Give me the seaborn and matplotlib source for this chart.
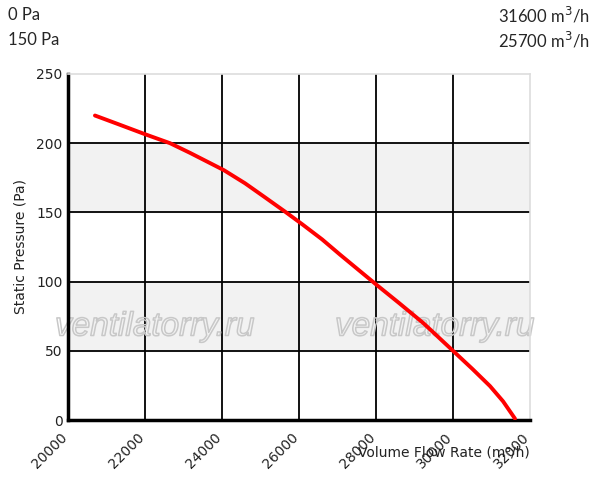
import matplotlib
matplotlib.use("Agg")
import matplotlib.pyplot as plt
import matplotlib.patheffects as pe
import matplotlib.transforms as mtransforms
import pandas as pd
import seaborn as sns

# кривая вентилятора
flow = [20700, 21300, 22000, 22650, 23170, 24050, 24600, 25100, 25640, 26080,
        26600, 27065, 27500, 28000, 28600, 29230, 30000, 30500, 30961, 31300, 31610]
pressure = [220, 213.8, 206.5, 200, 193, 180.5, 171, 161.2, 150.5, 141.5,
            130.5, 119.5, 109.5, 98, 84.5, 70, 50, 37, 24.5, 13.5, 1]

bands = [(50, 100), (150, 200)]
x_ticks = [20000, 22000, 24000, 26000, 28000, 30000, 32000]
y_ticks = [0, 50, 100, 150, 200, 250]

left_notes = ["0 Pa", "150 Pa"]
right_notes = ["31600 m$^3$/h", "25700 m$^3$/h"]

df = pd.DataFrame({"flow": flow, "pressure": pressure})

sns.set_style("white")
plt.rcParams["font.family"] = ["DejaVu Sans"]

fig = plt.figure(figsize=(5.97, 4.92), dpi=100)
ax = fig.add_axes([68 / 597, 1 - 420 / 492, 462 / 597, 346 / 492])

for lo, hi in bands:
    ax.axhspan(lo, hi, color="#f2f2f2", zorder=0)

for x in x_ticks[1:-1]:
    ax.axvline(x, color="black", lw=1.3, zorder=1)
for y in y_ticks[1:-1]:
    ax.axhline(y, color="black", lw=1.3, zorder=1)

# водяные знаки
for cx in [155, 435]:
    ax.text(cx / 597, 1 - 327 / 492, "ventilatorry.ru", ha="center", va="center",
            transform=fig.transFigure, fontsize=24, style="italic",
            family="Liberation Sans", color=(1, 1, 1, 0), clip_on=False,
            path_effects=[pe.withStroke(linewidth=1.1, foreground="#c8c8c8")], zorder=2)

sns.lineplot(data=df, x="flow", y="pressure", color="red", lw=2.8, ax=ax, zorder=3)

ax.set_xlim(20000, 32000)
ax.set_ylim(0, 250)
ax.set_xticks(x_ticks)
ax.set_yticks(y_ticks)
ax.set_xticklabels([str(v) for v in x_ticks], rotation=45, ha="right",
                   rotation_mode="anchor", fontsize=10, color="#222222")
ax.set_yticklabels([str(v) for v in y_ticks], fontsize=10, color="#222222")
ax.tick_params(length=0, pad=4)
shift = mtransforms.ScaledTranslation(-8 / 100, -5 / 100, fig.dpi_scale_trans)
for lab in ax.get_xticklabels():
    lab.set_transform(lab.get_transform() + shift)
ax.set_xlabel("")
ax.set_ylabel("Static Pressure (Pa)", fontsize=10, color="#222222", labelpad=6)

for s in ["left", "bottom"]:
    ax.spines[s].set_color("black")
    ax.spines[s].set_linewidth(2.5)
for s in ["top", "right"]:
    ax.spines[s].set_color("#dddddd")
    ax.spines[s].set_linewidth(1.2)

fig.text(530 / 597, 1 - 452 / 492, "Volume Flow Rate (m³/h)", ha="right", va="center",
         fontsize=10, color="#222222")

for i, (l, r) in enumerate(zip(left_notes, right_notes)):
    yy = 1 - (15 + i * 25) / 492
    fig.text(8 / 597, yy, l, ha="left", va="center", fontsize=12, family="Lato")
    fig.text(590 / 597, yy, r, ha="right", va="center", fontsize=12, family="Lato")

fig.savefig("out.png", dpi=100)
